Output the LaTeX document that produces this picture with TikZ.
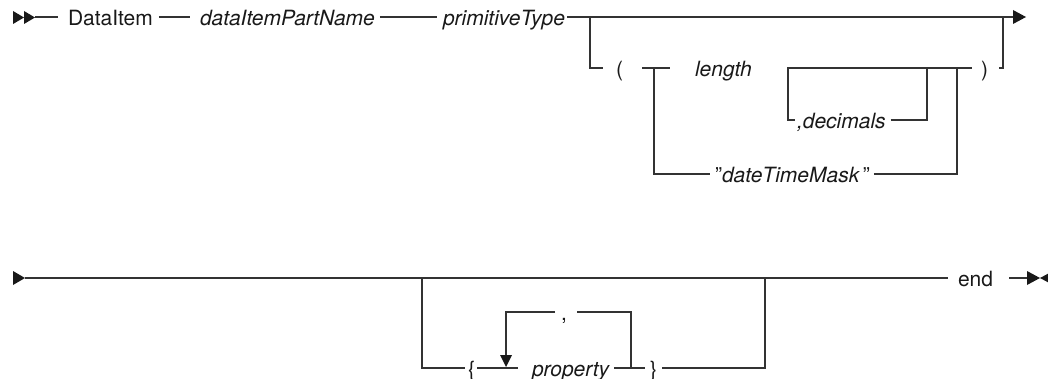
\documentclass[tikz,border=0pt]{standalone}
\usepackage{fontspec}
\setmainfont{TeX Gyre Heros}
\begin{document}
\begin{tikzpicture}[x=1pt,y=-1pt,
  rail/.style={draw=black!80, line width=1.1pt},
  tip/.style={fill=black!90, draw=none},
  lbl/.style={inner sep=0pt, outer sep=0pt, anchor=west, text height=17pt,
    text depth=0pt, font=\fontsize{21}{25}\selectfont, text=black!90},
  var/.style={lbl, font=\fontsize{21}{25}\selectfont\itshape}]
\path[use as bounding box] (0,0) rectangle (1048,379);
\clip (0,0) rectangle (1048,379);

% ---------- first line of the syntax ----------
\node[lbl] (kw)   at (68,17)   {DataItem};
\node[var] (part) at (200,17)  {dataItemPartName};
\node[var] (prim) at (443,17)  {primitiveType};
\node[lbl] (lp)   at (616,68)  {(};
\node[var] (len)  at (695,68)  {length};
\node[var] (dec)  at (797,120) {,decimals};
\node[lbl] (mask) at (715,174) {\symbol{34}\textit{dateTimeMask}\hspace{3pt}\symbol{34}};
\node[lbl] (rp)   at (981,68)  {)};

\coordinate (a0) at (35,17);
\coordinate (b1) at (590,17);
\coordinate (b2) at (1003,17);
\coordinate (a1) at (1013,17);
\coordinate (c1) at (642,68);
\coordinate (c2) at (670,68);
\coordinate (c3) at (654,68);
\coordinate (c4) at (787,68);
\coordinate (c5) at (972,68);
\coordinate (d1) at (788,68);
\coordinate (d2) at (927,68);
\coordinate (e2) at (957,68);

% start marker
\fill[tip] (13,11) -- (13,24) -- (24,17.5) -- cycle;
\fill[tip] (24,11) -- (24,24) -- (35,17.5) -- cycle;

\draw[rail] (a0) -- ([xshift=-10pt]kw.west);
\draw[rail] ([xshift=6pt]kw.east) -- ([xshift=-10pt]part.west);
\draw[rail] ([xshift=5pt]part.east) -- ([xshift=-6pt]prim.west);
\draw[rail] ([xshift=2pt]prim.east) -- (a1);
\fill[tip] (1013,10) -- (1013,24) -- (1026,17) -- cycle;

% optional length / mask group
\draw[rail] (b1) |- ([xshift=-13pt]lp.west);
\draw[rail] (c1) -- (c2);
\draw[rail] (c3) |- ([xshift=-5pt]mask.west);
\draw[rail] (c4) -- (c5);
\draw[rail] (d1) |- ([xshift=-2pt]dec.west);
\draw[rail] ([xshift=5pt]dec.east) -| (d2);
\draw[rail] ([xshift=4pt]mask.east) -| (e2);
\draw[rail] ([xshift=11pt]rp.east) -| (b2);

% ---------- second line of the syntax ----------
\node[lbl] (endkw) at (958,278) {end};
\node[lbl] (lb)    at (468,368) {\{};
\node[var] (prop)  at (532,368) {property};
\node[lbl] (rb)    at (650,368) {\}};
\node[lbl] (sep)   at (561,312) {,};

\coordinate (f0) at (25,278);
\coordinate (f1) at (422,278);
\coordinate (f2) at (765,278);
\coordinate (g1) at (1027,278);
\coordinate (h1) at (506,368);
\coordinate (h2) at (631,368);

\fill[tip] (13,271) -- (13,285) -- (25,278) -- cycle;
\draw[rail] (f0) -- ([xshift=-10pt]endkw.west);
\draw[rail] ([xshift=16pt]endkw.east) -- (g1);
\fill[tip] (1027,271) -- (1027,285) -- (1040,278) -- cycle;
\fill[tip] (1053,271) -- (1053,285) -- (1040,278) -- cycle;

% optional property list
\draw[rail] (f1) |- ([xshift=-3pt]lb.west);
\draw[rail] ([xshift=2pt]lb.east) -- ([xshift=-14pt]prop.west);
\draw[rail] ([xshift=5pt]prop.east) -- ([xshift=-5pt]rb.west);
\draw[rail] ([xshift=5pt]rb.east) -| (f2);

% repetition loop
\draw[rail] (h2) |- ([xshift=10pt]sep.east);
\draw[rail] ([xshift=-6pt]sep.west) -| ([yshift=12pt]h1);
\fill[tip] (500,355) -- (512,355) -- (506,367) -- cycle;
\end{tikzpicture}
\end{document}
